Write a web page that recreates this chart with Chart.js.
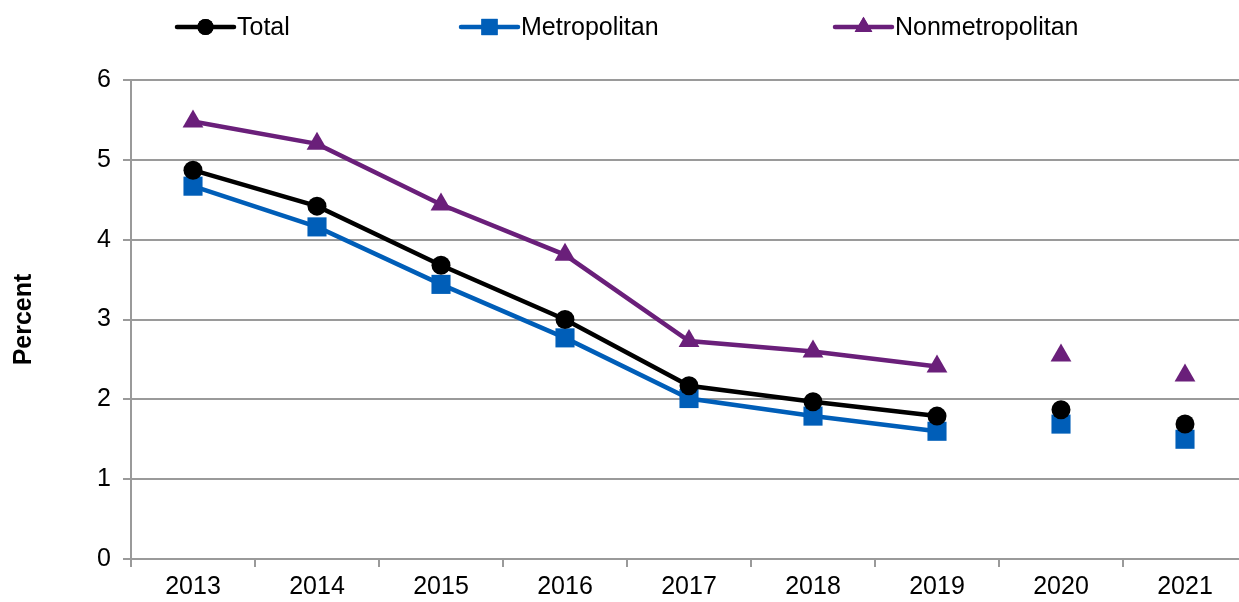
<!DOCTYPE html>
<html>
<head>
<meta charset="utf-8">
<script src="https://cdn.jsdelivr.net/npm/chart.js@4/dist/chart.umd.min.js"></script>
<style>
  html, body { margin: 0; padding: 0; background: #fff; overflow: hidden; }
  #wrap { width: 1239px; height: 602px; }
  canvas { display: block; }
</style>
</head>
<body>
<div id="wrap"><canvas id="c" width="1239" height="602"></canvas></div>
<script>
// Years on the category axis
const years = ['2013', '2014', '2015', '2016', '2017', '2018', '2019', '2020', '2021'];

// Percent values per area type
const totalValues = [4.87, 4.42, 3.68, 3.00, 2.17, 1.97, 1.79, 1.87, 1.69];
const metroValues = [4.67, 4.16, 3.44, 2.77, 2.01, 1.79, 1.60, 1.69, 1.50];
const nonmetroValues = [5.48, 5.20, 4.44, 3.81, 2.73, 2.60, 2.41, 2.55, 2.30];

// Y axis ticks
const yTicks = [0, 1, 2, 3, 4, 5, 6];

const FONT = '"Liberation Sans", Arial, sans-serif';
const GRID = '#9a9a9a';

// Lines are only drawn through the continuous part of the series (through 2019)
const lastJoined = 6;
const segmentStyle = {
  borderColor: ctx => (ctx.p0DataIndex >= lastJoined ? 'rgba(0,0,0,0)' : undefined)
};

function series(label, data, color, style, radius) {
  return {
    label, data,
    borderColor: color,
    backgroundColor: color,
    borderWidth: 4.5,
    pointStyle: style,
    pointRadius: radius,
    pointHoverRadius: radius,
    pointBorderWidth: 0,
    pointBackgroundColor: color,
    tension: 0,
    clip: false,
    segment: segmentStyle
  };
}

// Legend drawn as line + marker; each entry starts at its own x position
const legendStarts = [177, 461, 835];
const lineLegend = {
  id: 'lineLegend',
  afterDraw(chart) {
    const ctx = chart.ctx;
    const y = 27;
    const lineLen = 57;
    ctx.save();
    ctx.font = '25px ' + FONT;
    ctx.textBaseline = 'middle';
    chart.data.datasets.forEach((ds, i) => {
      const x = legendStarts[i];
      ctx.strokeStyle = ds.borderColor;
      ctx.lineWidth = 4.5;
      ctx.lineCap = 'round';
      ctx.beginPath();
      ctx.moveTo(x, y);
      ctx.lineTo(x + lineLen, y);
      ctx.stroke();
      ctx.fillStyle = ds.backgroundColor;
      Chart.helpers.drawPoint(ctx, {
        pointStyle: ds.pointStyle,
        radius: ds.pointRadius * 0.85,
        borderWidth: 0
      }, x + lineLen / 2, y);
      ctx.fill();
      ctx.fillStyle = '#000';
      ctx.fillText(ds.label, x + lineLen + 3, y + 1);
    });
    ctx.restore();
  }
};

// The plot area runs slightly past the right edge of the canvas
const overhang = 8;
const extendRight = {
  id: 'extendRight',
  afterLayout(chart) {
    const x = chart.scales.x;
    chart.chartArea.right += overhang;
    chart.chartArea.width += overhang;
    x.right += overhang;
    x.width += overhang;
    x.configure();
  }
};

new Chart(document.getElementById('c'), {
  type: 'line',
  data: {
    labels: years,
    datasets: [
      series('Total', totalValues, '#000000', 'circle', 9.5),
      series('Metropolitan', metroValues, '#005eb8', 'rect', 13.5),
      series('Nonmetropolitan', nonmetroValues, '#6a1f7a', 'triangle', 12)
    ]
  },
  options: {
    responsive: false,
    animation: false,
    layout: { autoPadding: false, padding: { top: 80, right: 0, left: 0, bottom: 0 } },
    plugins: {
      legend: { display: false },
      tooltip: { enabled: false }
    },
    scales: {
      x: {
        offset: true,
        grid: {
          offset: true,
          drawOnChartArea: false,
          drawTicks: true,
          tickLength: 8,
          color: GRID,
          lineWidth: 2
        },
        border: { color: GRID, width: 2 },
        ticks: {
          color: '#000',
          padding: 5,
          maxRotation: 0,
          font: { family: FONT, size: 25 }
        },
        afterFit(scale) {
          scale.height = 43;
          scale.paddingLeft = 0;
          scale.paddingRight = 0;
        }
      },
      y: {
        min: 0,
        max: 6,
        afterBuildTicks(scale) { scale.ticks = yTicks.map(v => ({ value: v })); },
        grid: {
          color: GRID,
          lineWidth: 2,
          tickLength: 8,
          drawTicks: true
        },
        border: { color: GRID, width: 2 },
        ticks: {
          color: '#000',
          padding: 12,
          font: { family: FONT, size: 25 }
        },
        title: {
          display: true,
          text: 'Percent',
          color: '#000',
          padding: { top: 9, bottom: 0 },
          font: { family: FONT, size: 25, weight: 'bold' }
        },
        afterFit(scale) { scale.width = 131; }
      }
    }
  },
  plugins: [lineLegend, extendRight]
});
</script>
</body>
</html>
